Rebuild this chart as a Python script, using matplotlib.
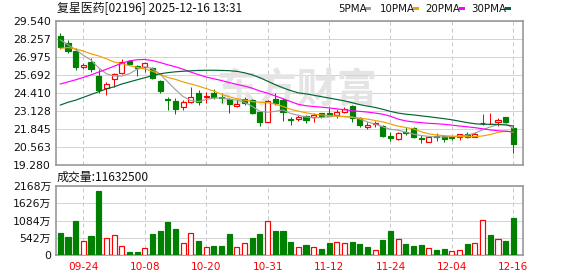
import matplotlib
matplotlib.use('Agg')
import matplotlib.pyplot as plt
from matplotlib.patches import Rectangle
import numpy as np

# ---------------- data ----------------
title = '复星医药[02196] 2025-12-16 13:31'
vol_label = '成交量:11632500'
watermark = '东方财富'

dates = ['09-19', '09-22', '09-23', '09-24', '09-25', '09-26', '09-29', '09-30', '10-02', '10-03',
         '10-06', '10-08', '10-09', '10-10', '10-13', '10-14', '10-15', '10-16', '10-17', '10-20',
         '10-21', '10-22', '10-23', '10-24', '10-27', '10-28', '10-30', '10-31', '11-03', '11-04',
         '11-05', '11-06', '11-07', '11-10', '11-11', '11-12', '11-13', '11-14', '11-17', '11-18',
         '11-19', '11-20', '11-21', '11-24', '11-25', '11-26', '11-27', '11-28', '12-01', '12-02',
         '12-03', '12-04', '12-05', '12-08', '12-09', '12-10', '12-11', '12-12', '12-15', '12-16']

opens = [28.45, 27.95, 27.40, 26.24, 26.62, 25.62, 24.79, 25.38, 25.81, 26.69,
         26.33, 26.28, 26.17, 25.26, 24.00, 23.86, 23.44, 23.79, 24.43, 24.10,
         24.39, 24.15, 23.96, 23.48, 23.98, 23.91, 23.08, 22.37, 23.96, 23.91,
         22.55, 22.53, 22.79, 22.68, 22.96, 23.01, 22.84, 23.08, 23.48, 22.65,
         22.02, 22.20, 22.06, 21.35, 21.13, 21.62, 21.89, 21.18, 20.95, 21.35,
         21.35, 21.35, 21.30, 21.49, 21.30, 22.30, 22.18, 22.32, 22.72, 21.89]
highs = [28.68, 28.19, 27.59, 26.57, 26.88, 26.10, 25.17, 25.86, 26.81, 26.76,
         26.40, 26.64, 26.29, 25.33, 24.15, 24.03, 23.91, 24.81, 24.62, 24.50,
         24.67, 24.43, 24.03, 23.96, 24.15, 23.96, 23.13, 23.91, 24.43, 24.08,
         22.72, 22.84, 22.84, 23.01, 23.01, 23.32, 23.25, 23.44, 23.55, 22.72,
         22.37, 22.44, 22.13, 21.65, 21.65, 22.00, 21.96, 21.42, 21.30, 21.54,
         21.42, 21.35, 21.46, 21.65, 21.65, 22.91, 23.01, 22.60, 22.72, 22.13]
lows = [27.52, 27.24, 26.05, 26.10, 25.93, 24.43, 24.24, 24.86, 25.74, 26.40,
        25.62, 25.93, 25.38, 24.43, 23.20, 22.91, 23.20, 23.72, 23.55, 23.72,
        23.96, 23.67, 22.96, 23.44, 23.55, 22.91, 22.06, 22.34, 23.55, 22.44,
        22.13, 22.44, 22.30, 22.37, 22.60, 22.74, 22.60, 22.96, 22.37, 22.01,
        21.82, 22.01, 21.25, 21.01, 21.06, 21.45, 21.18, 20.87, 20.90, 21.01,
        20.94, 21.06, 21.06, 21.18, 21.30, 22.13, 22.18, 22.06, 22.25, 20.16]
closes = [27.71, 27.43, 26.29, 26.43, 26.12, 24.62, 25.03, 25.76, 26.64, 26.50,
          26.19, 26.57, 25.50, 24.58, 23.91, 23.25, 23.79, 24.15, 23.79, 24.20,
          24.15, 24.03, 23.60, 23.66, 23.70, 23.01, 22.37, 23.86, 23.67, 23.08,
          22.50, 22.72, 22.49, 22.84, 22.77, 22.74, 23.08, 23.25, 22.60, 22.13,
          22.10, 22.30, 21.35, 21.18, 21.58, 21.55, 21.30, 21.11, 21.30, 21.25,
          21.11, 21.18, 21.46, 21.30, 21.49, 22.24, 22.21, 22.49, 22.37, 20.77]
# volume in 万 shares
volumes = [698, 572, 1073, 447, 604, 2011, 531, 625, 281, 103,
           103, 228, 666, 760, 1041, 823, 375, 688, 447, 250,
           291, 291, 666, 250, 375, 541, 666, 1073, 760, 760,
           416, 250, 322, 250, 197, 385, 406, 375, 416, 353,
           260, 156, 479, 760, 500, 353, 291, 322, 219, 166,
           197, 125, 156, 353, 375, 1095, 635, 500, 447, 1163.25]

ma5 = [28.20, 27.85, 27.50, 27.10, 26.75, 26.20, 25.78, 25.62, 25.62, 25.78,
       26.10, 26.28, 26.15, 25.75, 25.20, 24.65, 24.15, 23.88, 23.80, 23.95,
       24.05, 24.06, 23.97, 23.90, 23.75, 23.45, 23.10, 23.05, 23.10, 23.20,
       22.95, 22.82, 22.70, 22.64, 22.66, 22.72, 22.76, 22.74, 22.70, 22.55,
       22.35, 22.20, 22.00, 21.82, 21.76, 21.62, 21.48, 21.38, 21.32, 21.28,
       21.28, 21.30, 21.34, 21.40, 21.55, 21.78, 22.00, 22.15, 22.20, 21.90]
ma10 = [27.59, 27.65, 27.55, 27.40, 27.20, 27.05, 26.85, 26.62, 26.50, 26.36,
        26.24, 26.12, 25.96, 25.75, 25.52, 25.38, 25.20, 25.05, 24.90, 24.72,
        24.55, 24.32, 24.14, 24.00, 23.90, 23.80, 23.75, 23.72, 23.62, 23.45,
        23.25, 23.12, 23.00, 22.90, 22.85, 22.80, 22.76, 22.72, 22.68, 22.62,
        22.55, 22.45, 22.35, 22.20, 22.05, 21.95, 21.85, 21.65, 21.50, 21.42,
        21.37, 21.33, 21.30, 21.30, 21.30, 21.35, 21.45, 21.60, 21.70, 21.62]
ma20 = [25.05, 25.20, 25.35, 25.52, 25.70, 25.90, 26.10, 26.32, 26.52, 26.70,
        26.78, 26.80, 26.72, 26.58, 26.42, 26.28, 26.10, 25.90, 25.72, 25.55,
        25.42, 25.30, 25.15, 25.02, 24.90, 24.75, 24.55, 24.40, 24.20, 24.00,
        23.80, 23.60, 23.50, 23.45, 23.40, 23.35, 23.28, 23.22, 23.15, 23.10,
        23.05, 22.98, 22.90, 22.75, 22.55, 22.42, 22.35, 22.30, 22.25, 22.22,
        22.18, 22.12, 22.06, 22.00, 21.94, 21.86, 21.78, 21.72, 21.68, 21.65]
ma30 = [23.55, 23.75, 23.90, 24.10, 24.30, 24.50, 24.70, 24.85, 25.05, 25.20,
        25.35, 25.50, 25.65, 25.78, 25.86, 25.92, 25.96, 25.99, 26.02, 26.03,
        26.03, 26.02, 26.00, 25.95, 25.85, 25.70, 25.50, 25.25, 25.00, 24.78,
        24.58, 24.42, 24.35, 24.25, 24.15, 24.05, 23.95, 23.85, 23.72, 23.58,
        23.48, 23.38, 23.25, 23.10, 22.98, 22.90, 22.85, 22.78, 22.72, 22.65,
        22.58, 22.50, 22.40, 22.30, 22.22, 22.18, 22.18, 22.17, 22.13, 22.06]

ma_names = ['5PMA', '10PMA', '20PMA', '30PMA']
price_ticks = [29.540, 28.257, 26.975, 25.692, 24.410, 23.128, 21.845, 20.563, 19.280]
vol_ticks = [0, 542, 1084, 1626, 2168]
vol_tick_labels = ['0', '542万', '1084万', '1626万', '2168万']
date_ticks = ['09-24', '10-08', '10-20', '10-31', '11-12', '11-24', '12-04', '12-16']

# ---------------- style ----------------
RED = '#ff0000'
GREEN = '#008000'
MA_COLORS = ['#a0a0a0', '#f0a000', '#ff00ff', '#006633']
FRAME = '#999999'
GRID = '#d4d4d4'
CJK = ['DejaVu Sans', 'Noto Sans CJK SC']

W, H = 578, 276
fig = plt.figure(figsize=(W / 100, H / 100), dpi=100)


def rect(l, t, r, b):
    return [l / W, 1 - b / H, (r - l) / W, (b - t) / H]


ax = fig.add_axes(rect(56, 21, 522.7, 165))
axv = fig.add_axes(rect(56, 186, 522.7, 255.3))

x = np.arange(len(dates))
o = np.array(opens); c = np.array(closes)
h = np.array(highs); l = np.array(lows)
up = c >= o
cand_colors = [RED if u else GREEN for u in up]
prev = np.concatenate([[np.nan], c[:-1]])
vol_up = [(c[i] >= o[i]) if i == 0 else (c[i] > prev[i]) for i in range(len(c))]
vol_colors = [RED if u else GREEN for u in vol_up]

xlim = (-0.56, 60.22)
tick_pos = [dates.index(d) for d in date_ticks]
BW = 0.66
px = 0.72  # 1 pixel in points

# ---- price axes ----
ax.set_xlim(*xlim)
ax.set_ylim(price_ticks[-1], price_ticks[0])
ax.set_yticks(price_ticks)
ax.set_yticklabels(['%.3f' % v for v in price_ticks])
ax.set_xticks(tick_pos)
ax.set_xticklabels([])
ax.tick_params(axis='both', length=0)
ax.tick_params(axis='y', pad=3.5, labelsize=7.8, labelcolor='#111111')
ax.yaxis.grid(True, color=GRID, lw=px, ls='-')
ax.xaxis.grid(True, color='#c8c8c8', lw=px, ls=(0, (4, 3)))
ax.set_axisbelow(True)
for s in ax.spines.values():
    s.set_color(FRAME)
    s.set_linewidth(1.2)

ax.text(0.5175, 0.514, watermark, transform=ax.transAxes, fontsize=29,
        color='#e4e4e4', ha='center', va='center', family=['Noto Sans CJK SC'],
        fontweight='bold', zorder=0.6)

ax.vlines(x, l, h, colors=cand_colors, lw=px, zorder=3)
bottoms = np.minimum(o, c)
heights = np.abs(c - o)
faces = ['white' if u else GREEN for u in up]
ax.bar(x, heights, bottom=bottoms, width=BW, color=faces, edgecolor=cand_colors,
       linewidth=px * 1.2, zorder=4)

for ma, col in zip([ma5, ma10, ma20, ma30], MA_COLORS):
    ax.plot(x, ma, color=col, lw=0.85, zorder=5)

# ---- volume axes ----
axv.set_xlim(*xlim)
axv.set_ylim(vol_ticks[0], vol_ticks[-1])
axv.set_yticks(vol_ticks)
axv.set_yticklabels(vol_tick_labels, family=CJK)
axv.set_xticks(tick_pos)
axv.set_xticklabels(date_ticks)
axv.tick_params(axis='both', length=0)
axv.tick_params(axis='y', pad=3.5, labelsize=7.8, labelcolor='#111111')
axv.tick_params(axis='x', pad=5, labelsize=7.6, labelcolor=RED)
axv.yaxis.grid(True, color=GRID, lw=px, ls='-')
axv.xaxis.grid(True, color='#c8c8c8', lw=px, ls=(0, (4, 3)))
axv.set_axisbelow(True)
for s in axv.spines.values():
    s.set_color(FRAME)
    s.set_linewidth(1.2)
vfaces = ['white' if u else GREEN for u in vol_up]
axv.bar(x, volumes, width=BW, color=vfaces, edgecolor=vol_colors,
        linewidth=px * 1.2, zorder=4)

# ---- texts ----
fig.text(57 / W, 1 - 9 / H, title, fontsize=8.6, family=['Noto Sans CJK SC'],
         ha='left', va='center', color='#111111')
fig.text(57 / W, 1 - 177.5 / H, vol_label, fontsize=8.6, family=['Noto Sans CJK SC'],
         ha='left', va='center', color='#111111')

leg_x = [338, 380, 425.5, 471.5]
sq_x = [365, 413, 459, 505]
for name, lx, sx, col in zip(ma_names, leg_x, sq_x, MA_COLORS):
    fig.text(lx / W, 1 - 8.6 / H, name, fontsize=7.4, family=['DejaVu Sans'],
             ha='left', va='center', color='#111111')
    fig.patches.append(Rectangle((sx / W, 1 - 10 / H), 5.5 / W, 3 / H,
                                 transform=fig.transFigure, facecolor=col,
                                 edgecolor='none'))

fig.savefig('out.png', dpi=100)
